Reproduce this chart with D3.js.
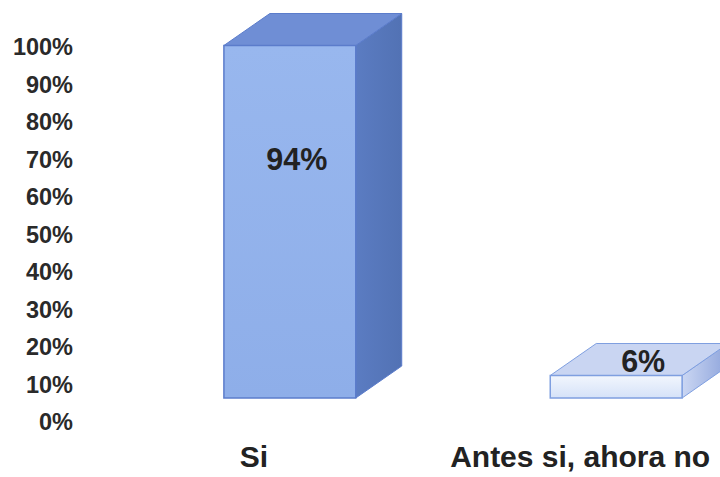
<!DOCTYPE html>
<html>
<head>
<meta charset="utf-8">
<script src="https://cdn.jsdelivr.net/npm/d3@7"></script>
<style>
  html, body { margin: 0; padding: 0; background: #ffffff; }
  svg { display: block; font-family: "Liberation Sans", Arial, sans-serif; }
</style>
</head>
<body>
<svg id="chart" width="720" height="477"></svg>
<script>
// Survey answers and their shares (percent)
const categories = ["Si", "Antes si, ahora no"];
const values = [94, 6];
const tickValues = [0, 10, 20, 30, 40, 50, 60, 70, 80, 90, 100];
const tickLabels = tickValues.map(v => v + "%");

// Colour sets for the faces of each 3D column
const faceColors = [
  { front: ["#98b7ee", "#8eaee9"], top: "#6f8ed5", side: ["#5b7cc2", "#5272b4"], stroke: "#5b7ccb" },
  { front: ["#f2f6fd", "#d5e2f8"], top: "#c9d5f2", side: ["#cbd7f3", "#8ea4db"], stroke: "#7f9fe0" }
];

const svg = d3.select("#chart");

// Value axis (drawn on the front plane) and band positions
const y = d3.scaleLinear().domain([0, 100]).range([422, 47]);
const x = d3.scaleBand().domain(categories).range([126, 780]).paddingInner(0.596).paddingOuter(0.3);

// Perspective depth of the columns
const depthX = 46, depthY = -32;
const setBack = 24; // columns stand behind the axis plane

const defs = svg.append("defs");
faceColors.forEach((c, i) => {
  const gf = defs.append("linearGradient").attr("id", "front" + i)
    .attr("x1", 0).attr("y1", 0).attr("x2", 0).attr("y2", 1);
  gf.append("stop").attr("offset", "0%").attr("stop-color", c.front[0]);
  gf.append("stop").attr("offset", "100%").attr("stop-color", c.front[1]);
  const gs = defs.append("linearGradient").attr("id", "side" + i)
    .attr("x1", 0).attr("y1", 0).attr("x2", 1).attr("y2", 0);
  gs.append("stop").attr("offset", "0%").attr("stop-color", c.side[0]);
  gs.append("stop").attr("offset", "100%").attr("stop-color", c.side[1]);
});

// Y axis tick labels
svg.append("g").selectAll("text")
  .data(tickValues)
  .join("text")
  .attr("x", 73)
  .attr("y", d => y(d))
  .attr("dy", "0.35em")
  .attr("text-anchor", "end")
  .attr("font-size", 23.5)
  .attr("font-weight", "bold")
  .attr("fill", "#2a2a2a")
  .text((d, i) => tickLabels[i]);

// 3D columns
const bars = svg.append("g").selectAll("g")
  .data(categories.map((c, i) => ({ c, v: values[i], i })))
  .join("g");

bars.each(function(d) {
  const g = d3.select(this);
  const c = faceColors[d.i];
  const x0 = x(d.c), x1 = x(d.c) + x.bandwidth();
  const yb = y(0) - setBack, yt = y(d.v) - setBack;
  const pts = a => a.map(p => p.join(",")).join(" ");

  // side face
  g.append("polygon")
    .attr("points", pts([[x1, yt], [x1 + depthX, yt + depthY], [x1 + depthX, yb + depthY], [x1, yb]]))
    .attr("fill", `url(#side${d.i})`)
    .attr("stroke", c.stroke).attr("stroke-width", 1).attr("stroke-linejoin", "round");
  // top face
  g.append("polygon")
    .attr("points", pts([[x0, yt], [x0 + depthX, yt + depthY], [x1 + depthX, yt + depthY], [x1, yt]]))
    .attr("fill", c.top)
    .attr("stroke", c.stroke).attr("stroke-width", 1).attr("stroke-linejoin", "round");
  // front face
  g.append("rect")
    .attr("x", x0).attr("y", yt)
    .attr("width", x1 - x0).attr("height", yb - yt)
    .attr("fill", `url(#front${d.i})`)
    .attr("stroke", c.stroke).attr("stroke-width", 1.5);
});

// Value labels: inside the tall column, on the top face of the short one
bars.append("text")
  .attr("x", d => d.v > 50 ? x(d.c) + x.bandwidth() / 2 + 7 : x(d.c) + x.bandwidth() / 2 + 27)
  .attr("y", d => d.v > 50 ? y(d.v) - setBack + 124 : y(d.v) - setBack - 4)
  .attr("text-anchor", "middle")
  .attr("font-size", 30.5)
  .attr("font-weight", "bold")
  .attr("fill", "#222")
  .text(d => d.v + "%");

// Category labels along the floor
svg.append("g").selectAll("text")
  .data(categories)
  .join("text")
  .attr("x", d => x(d) + x.bandwidth() / 2 - 36)
  .attr("y", 467)
  .attr("text-anchor", "middle")
  .attr("font-size", 30)
  .attr("font-weight", "bold")
  .attr("fill", "#222")
  .text(d => d);
</script>
</body>
</html>
